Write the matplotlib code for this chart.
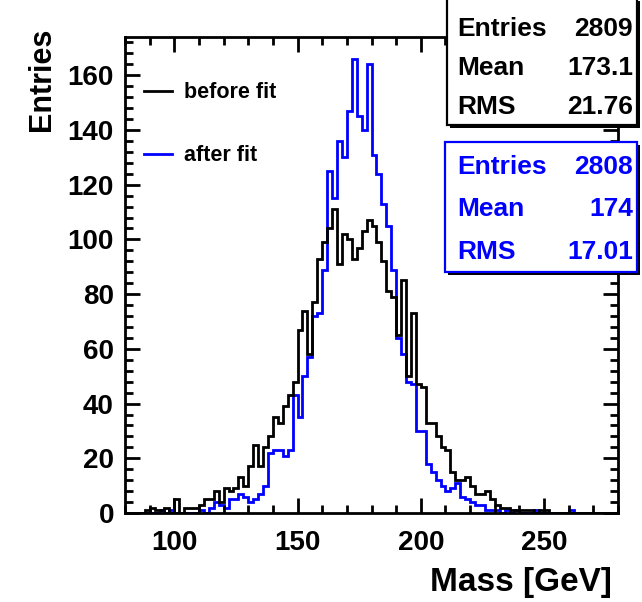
import numpy as np
import matplotlib.pyplot as plt
from matplotlib.patches import Rectangle
from matplotlib.ticker import MultipleLocator

plt.rcParams['font.family'] = ['Liberation Sans', 'DejaVu Sans']
plt.rcParams['font.weight'] = 'bold'

# 2 GeV bins from 80 to 280
bin_edges = np.arange(80, 282, 2)

before_fit = [0, 0, 0, 0, 1, 2, 1, 1, 2, 0,
              5, 0, 2, 2, 2, 3, 5, 5, 8, 4,
              9, 8, 9, 13, 10, 17, 25, 17, 24, 28,
              35, 33, 39, 43, 48, 67, 74, 58, 77, 93,
              99, 104, 111, 91, 102, 100, 93, 97, 103, 107,
              105, 99, 92, 81, 79, 65, 85, 50, 73, 47,
              46, 33, 33, 28, 24, 23, 15, 12, 12, 13,
              10, 7, 7, 8, 5, 3, 2, 2, 1, 1,
              1, 1, 1, 0, 1, 1, 0, 0, 0, 0,
              0, 0, 0, 0, 0, 0, 0, 0, 0, 0]

after_fit = [0, 0, 0, 0, 0, 0, 0, 1, 0, 1,
             0, 0, 0, 0, 0, 1, 0, 2, 4, 3,
             2, 5, 5, 7, 6, 4, 5, 7, 10, 22,
             23, 23, 21, 23, 43, 35, 50, 57, 72, 73,
             89, 125, 115, 136, 130, 147, 166, 145, 140, 164,
             131, 124, 113, 105, 89, 64, 58, 48, 47, 30,
             30, 18, 15, 12, 10, 8, 9, 11, 6, 5,
             4, 3, 3, 1, 1, 1, 0, 1, 0, 1,
             0, 0, 0, 1, 0, 0, 0, 0, 0, 0,
             1, 0, 0, 0, 0, 0, 0, 0, 0, 0]

stats_before = [("Entries", "2809"), ("Mean", "173.1"), ("RMS", "21.76")]
stats_after = [("Entries", "2808"), ("Mean", "174"), ("RMS", "17.01")]

W, H = 642, 602
fig = plt.figure(figsize=(W / 100, H / 100), dpi=100)
ax = fig.add_axes([125 / W, 89 / H, 493 / W, 476 / H])

ax.stairs(after_fit, bin_edges, baseline=0, color="#0000ff", linewidth=2, label="after fit")
ax.stairs(before_fit, bin_edges, baseline=0, color="black", linewidth=2, label="before fit")

ax.set_xlim(80, 280)
ax.set_ylim(0, 174)
ax.xaxis.set_major_locator(MultipleLocator(50))
ax.xaxis.set_minor_locator(MultipleLocator(10))
ax.yaxis.set_major_locator(MultipleLocator(20))
ax.yaxis.set_minor_locator(MultipleLocator(4))
ax.tick_params(which='both', direction='in', top=True, right=True, width=2, labelsize=20)
ax.tick_params(which='major', length=11)
ax.tick_params(which='minor', length=5.5)
ax.tick_params(axis='x', pad=12)
ax.tick_params(axis='y', pad=8)
for sp in ax.spines.values():
    sp.set_linewidth(2)

# legend (before fit first)
handles, labels = ax.get_legend_handles_labels()
ax.legend(handles[::-1], labels[::-1], loc='upper left', bbox_to_anchor=(0.0385, 0.905),
          frameon=False, fontsize=15.5, borderpad=0, borderaxespad=0,
          handlelength=1.3, handletextpad=0.55, labelspacing=1.95)

fig.text(612 / W, 1 - 582 / H, "Mass [GeV]", ha='right', va='center', fontsize=24)
fig.text(42 / W, 1 - 28 / H, "Entries", ha='center', va='top', rotation=90, fontsize=22)


def stat_box(x0, y0, x1, y1, stats, color, rows_y):
    # shadow then box, in pixel coords converted to figure fraction
    sh = Rectangle((x0 / W + 3 / W, 1 - y1 / H - 3 / H), (x1 - x0) / W, (y1 - y0) / H,
                   transform=fig.transFigure, facecolor='black', edgecolor='none', zorder=10)
    box = Rectangle((x0 / W, 1 - y1 / H), (x1 - x0) / W, (y1 - y0) / H,
                    transform=fig.transFigure, facecolor='white', edgecolor=color,
                    linewidth=1.6, zorder=11)
    fig.add_artist(sh)
    fig.add_artist(box)
    for (name, val), ry in zip(stats, rows_y):
        fig.text(457 / W, 1 - ry / H, name, ha='left', va='center', fontsize=19,
                 color=color, zorder=12)
        fig.text(633 / W, 1 - ry / H, val, ha='right', va='center', fontsize=19,
                 color=color, zorder=12)


stat_box(447, -2, 637, 125, stats_before, 'black', [29, 68, 107])
stat_box(445, 142, 637, 272, stats_after, '#0000ff', [167, 209, 252])

fig.savefig("out.png", dpi=100)
